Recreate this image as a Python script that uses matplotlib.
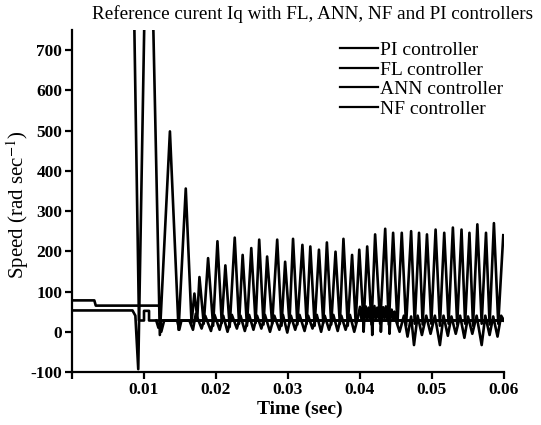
import matplotlib
matplotlib.use("Agg")
from matplotlib import pyplot as plt

plt.rcParams["font.family"] = ["Liberation Serif", "DejaVu Serif"]
plt.rcParams["mathtext.fontset"] = "stix"
plt.rcParams["axes.unicode_minus"] = False

# PI controller: upper step line, then settles near the reference
pi_t = [0, 0.0031, 0.0033, 0.0121, 0.0124, 0.0128, 0.0600]
pi_v = [78, 78, 65, 65, 0, 28, 28]

# FL controller: flat reference level with a short pulse
fl_t = [0.00862, 0.0093, 0.0100, 0.0100, 0.0107, 0.0107, 0.0600]
fl_v = [800, 28, 28, 52, 52, 28, 28]

# ANN controller: large transient then steady oscillation
ann_t = [0, 0.0084, 0.0088, 0.0092, 0.0106, 0.0122, 0.0136, 0.0148, 0.0158, 0.0166,
         0.0170, 0.0174, 0.0177, 0.0183, 0.0189, 0.0196, 0.0202, 0.0208, 0.0213, 0.0219,
         0.0226, 0.0232, 0.0237, 0.0243, 0.0249, 0.0255, 0.0260, 0.0266, 0.0271, 0.0278,
         0.0285, 0.0291, 0.0296, 0.0302, 0.0307, 0.0313, 0.0320, 0.0326, 0.0331, 0.0337,
         0.0343, 0.0349, 0.0354, 0.0360, 0.0366, 0.0372, 0.0377, 0.0383, 0.0389, 0.0394,
         0.0399, 0.0405, 0.0410, 0.0416, 0.0421, 0.0428, 0.0435, 0.0440, 0.0446, 0.0452,
         0.0458, 0.0464, 0.0471, 0.0476, 0.0482, 0.0487, 0.0493, 0.0499, 0.0505, 0.0511,
         0.0517, 0.0523, 0.0529, 0.0535, 0.0541, 0.0546, 0.0552, 0.0557, 0.0563, 0.0569,
         0.0575, 0.0580, 0.0586, 0.0592, 0.0599]
ann_v = [53, 53, 40, -93, 1340, -8, 498, 5, 356, 22,
         95, 35, 136, 20, 183, 15, 225, 22, 165, 12,
         234, 20, 191, 15, 208, 22, 229, 18, 187, 20,
         229, 15, 174, 22, 231, 18, 216, 20, 212, 15,
         204, 22, 222, 18, 199, 20, 231, 15, 191, 22,
         204, 20, 212, 18, 242, 20, 256, 18, 246, 20,
         246, 15, 250, 20, 246, 18, 242, 20, 254, 15,
         246, 20, 259, 18, 254, 20, 246, 15, 267, 20,
         246, 18, 270, 20, 240]

# NF controller: small ripple around the reference
nf_t = [0.0117, 0.0120, 0.0123, 0.0146, 0.0149, 0.0152, 0.0163,
        0.0168, 0.0172, 0.0180, 0.0185, 0.0193, 0.0198, 0.0205, 0.0210, 0.0216, 0.0222,
        0.0229, 0.0234, 0.0240, 0.0246, 0.0252, 0.0257, 0.0263, 0.0268, 0.0275, 0.0281,
        0.0288, 0.0293, 0.0299, 0.0304, 0.0310, 0.0316, 0.0323, 0.0328, 0.0334, 0.0340,
        0.0346, 0.0351, 0.0357, 0.0363, 0.0369, 0.0374, 0.0380, 0.0386, 0.0392, 0.0397,
        0.0400, 0.0402, 0.0404, 0.0405, 0.0406, 0.0408, 0.0410, 0.0412, 0.0414, 0.0416,
        0.0417, 0.0418, 0.0420, 0.0422, 0.0424, 0.0426, 0.0428, 0.0429, 0.0430, 0.0432,
        0.0434, 0.0436, 0.0438, 0.0440, 0.0441, 0.0442, 0.0444, 0.0446, 0.0448,
        0.0450, 0.0455, 0.0461, 0.0466, 0.0471, 0.0475, 0.0480, 0.0486, 0.0492, 0.0498,
        0.0504, 0.0511, 0.0516, 0.0522, 0.0527, 0.0533, 0.0539, 0.0545, 0.0550, 0.0556,
        0.0562, 0.0569, 0.0574, 0.0580, 0.0585, 0.0591, 0.0596, 0.0600]
nf_v = [28, 10, 28, 28, 5, 28, 28,
        5, 45, 8, 40, 2, 42, 5, 40, 0, 42,
        8, 40, 2, 42, 5, 40, 8, 42, 0, 40,
        5, 42, -2, 40, 5, 42, 2, 40, 8, 42,
        0, 40, 5, 42, 2, 40, 5, 42, 0, 35,
        62, 32, 60, 0, 34, 63, 30, 60, 33, 62,
        -8, 31, 64, 32, 60, 34, 62, 0, 30, 61,
        33, 63, 31, 58, -5, 34, 55, 32, 50,
        28, 0, 40, -12, 38, -33, 40, -8, 40, -5,
        40, -33, 40, -10, 38, -5, 40, -15, 38, -5,
        40, -33, 40, -8, 38, -12, 40, 28]

x_ticks = [0, 0.01, 0.02, 0.03, 0.04, 0.05, 0.06]
x_tick_labels = ["", "0.01", "0.02", "0.03", "0.04", "0.05", "0.06"]
y_ticks = [-100, 0, 100, 200, 300, 400, 500, 600, 700]

fig = plt.figure(figsize=(5.41, 4.25), dpi=100)
ax = fig.add_axes([0.1331, 0.1247, 0.7985, 0.8047])

lw = 1.9
l1, = ax.plot(pi_t, pi_v, color="black", lw=lw, label="PI controller")
l2, = ax.plot(fl_t, fl_v, color="black", lw=lw, label="FL controller")
l3, = ax.plot(ann_t, ann_v, color="black", lw=lw, label="ANN controller")
l4, = ax.plot(nf_t, nf_v, color="black", lw=lw, label="NF controller")

ax.set_xlim(0, 0.06)
ax.set_ylim(-100, 750)
ax.spines["top"].set_visible(False)
ax.spines["right"].set_visible(False)
ax.spines["left"].set_linewidth(1.6)
ax.spines["bottom"].set_linewidth(1.6)
ax.set_xticks(x_ticks)
ax.set_xticklabels(x_tick_labels)
ax.set_yticks(y_ticks)
ax.tick_params(direction="out", length=5, width=1.6, labelsize=12.5, pad=2)
for lab in ax.get_xticklabels() + ax.get_yticklabels():
    lab.set_fontweight("bold")

ax.set_xlabel("Time (sec)", fontsize=14, fontweight="bold")
ax.xaxis.set_label_coords(0.528, -0.085)
ax.set_ylabel("Speed (rad sec$^{-1}$)", fontsize=15)
ax.yaxis.set_label_coords(-0.094, 0.49)
fig.text(0.577, 0.967, "Reference curent Iq with FL, ANN, NF and PI controllers",
         ha="center", va="center", fontsize=13.8)

leg = fig.legend(handles=[l1, l2, l3, l4], loc="upper left", bbox_to_anchor=(0.628, 0.9025),
                 frameon=False, fontsize=14, handlelength=1.95, handletextpad=0.1,
                 labelspacing=0.1, borderpad=0, borderaxespad=0)
for h in leg.get_lines():
    h.set_linewidth(1.6)

plt.savefig("out.png", dpi=100)
